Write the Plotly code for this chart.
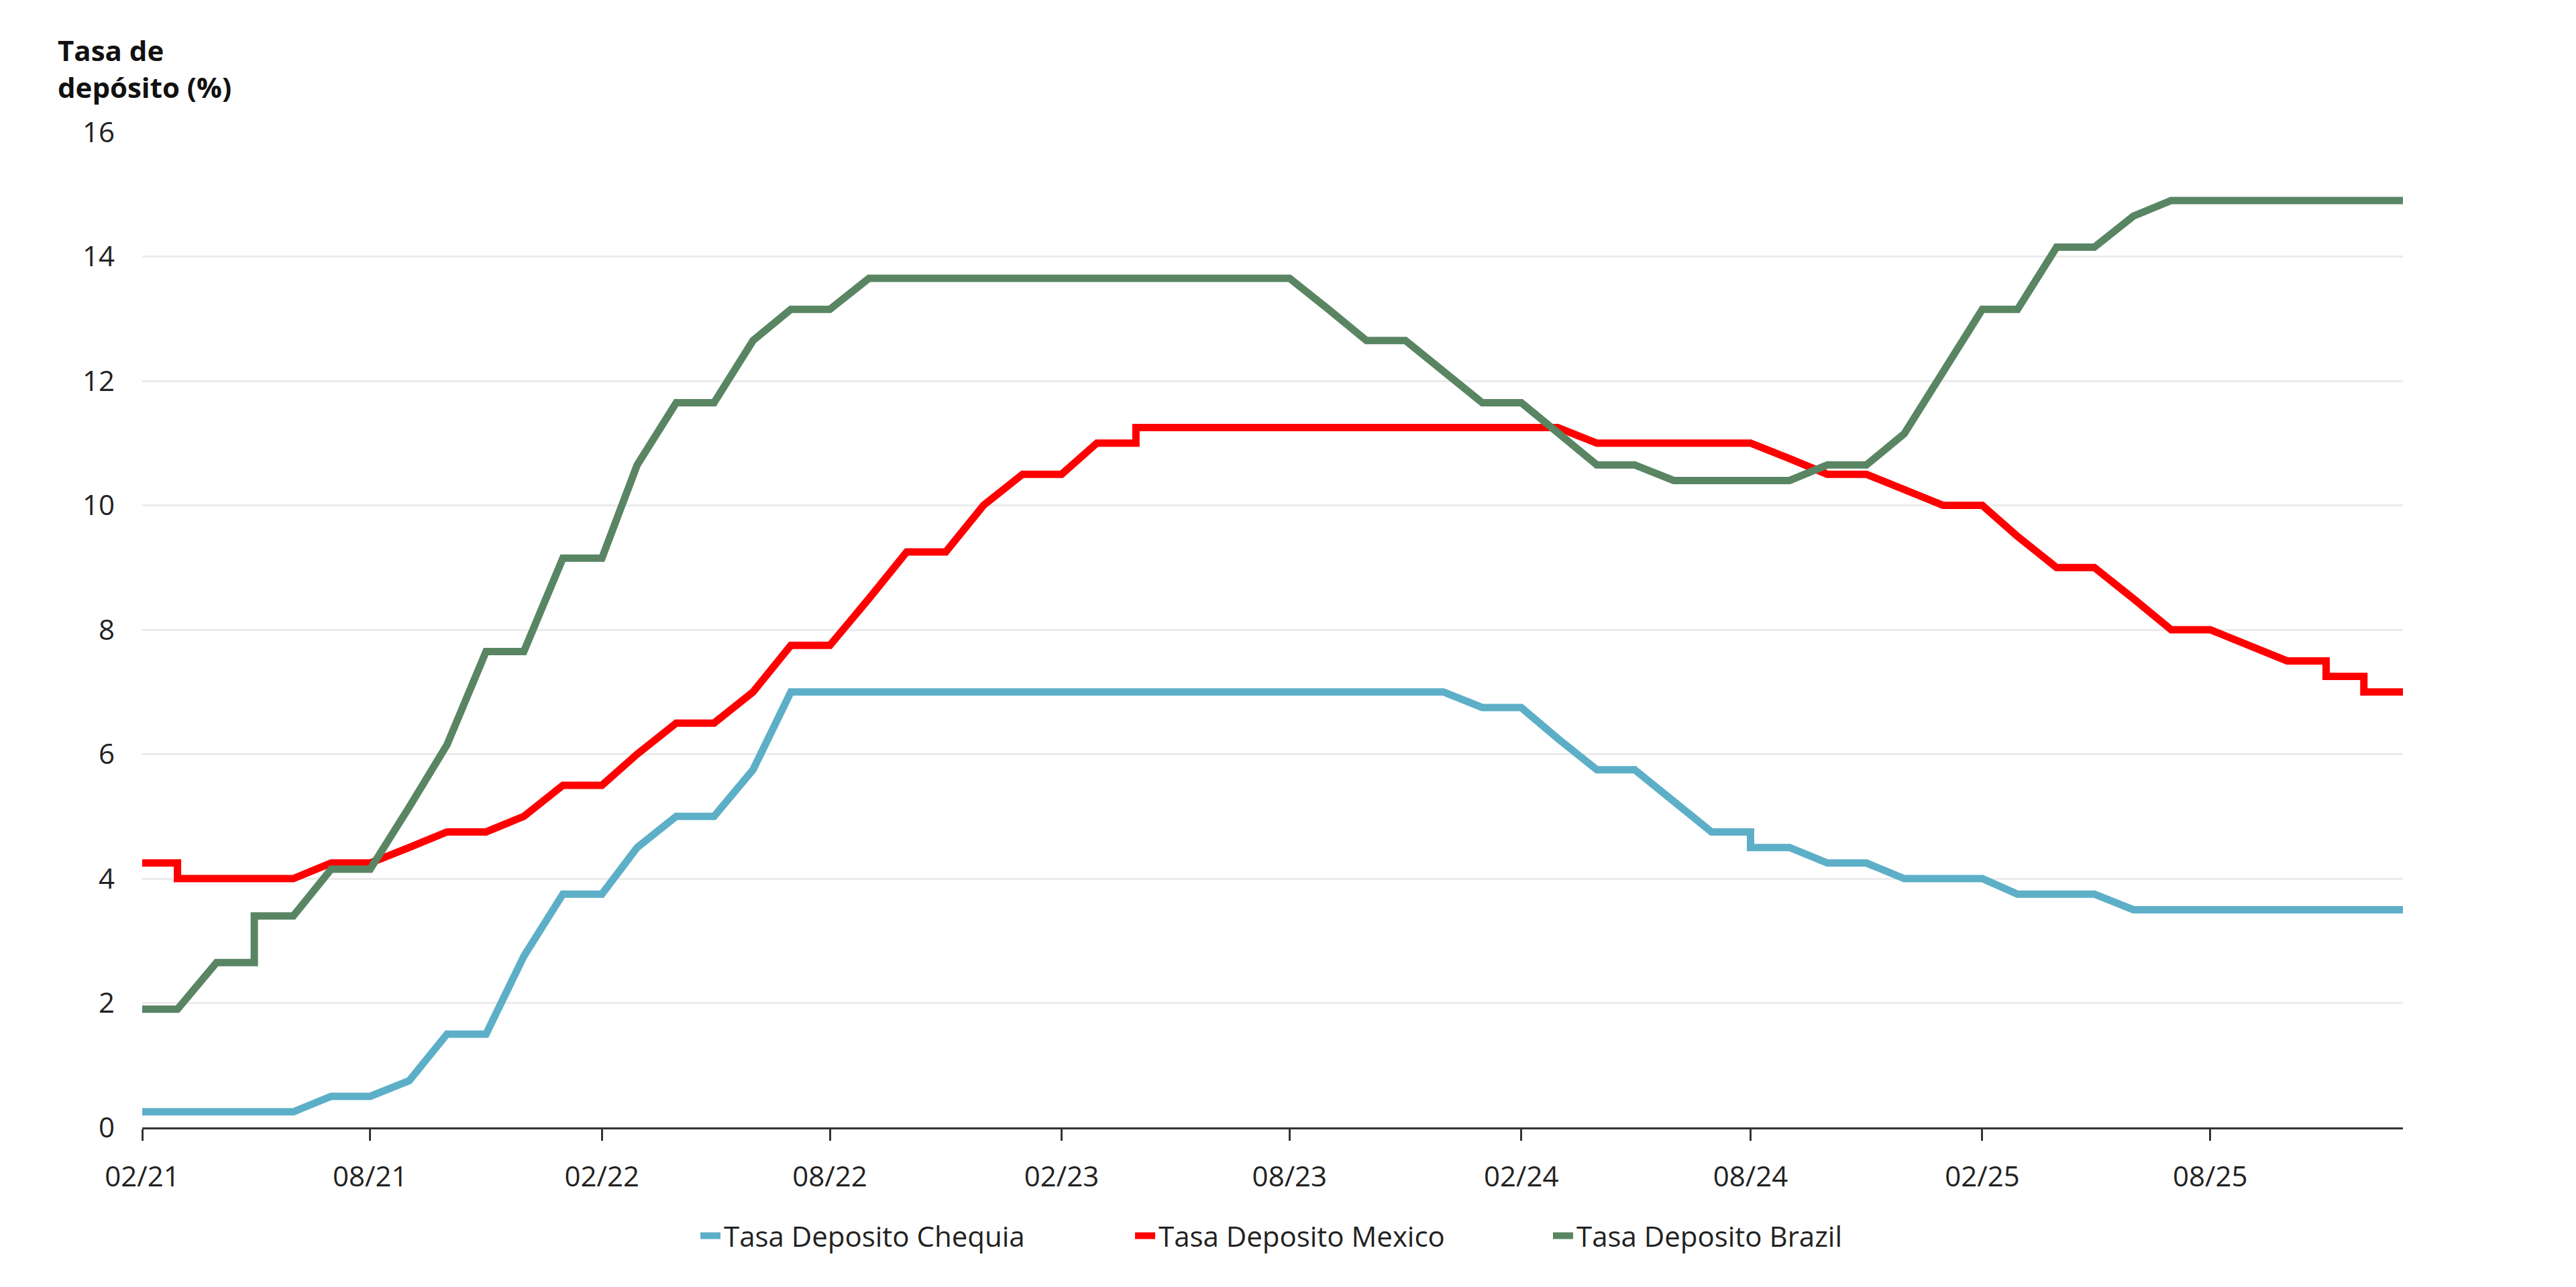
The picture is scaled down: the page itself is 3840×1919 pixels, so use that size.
import plotly.graph_objects as go
import pandas as pd

# Month offsets from 02/2021 (duplicated offsets = same-day rate change)
chequia_months = [0, 4, 5, 6, 7, 8, 9, 10, 11, 12, 13, 14, 15, 16, 17, 34, 35, 36, 37, 38, 39, 40, 41, 42, 42, 43, 44, 45, 46, 48, 49, 51, 52, 59]
chequia_vals = [0.25, 0.25, 0.5, 0.5, 0.75, 1.5, 1.5, 2.75, 3.75, 3.75, 4.5, 5.0, 5.0, 5.75, 7.0, 7.0, 6.75, 6.75, 6.25, 5.75, 5.75, 5.25, 4.75, 4.75, 4.5, 4.5, 4.25, 4.25, 4.0, 4.0, 3.75, 3.75, 3.5, 3.5]

mexico_months = [0, 1, 1, 4, 5, 6, 7, 8, 9, 10, 11, 12, 13, 14, 15, 16, 17, 18, 19, 20, 21, 22, 23, 24, 25, 26, 26, 37, 38, 42, 43, 44, 45, 46, 47, 48, 49, 50, 51, 52, 53, 54, 55, 56, 57, 57, 58, 58, 59]
mexico_vals = [4.25, 4.25, 4.0, 4.0, 4.25, 4.25, 4.5, 4.75, 4.75, 5.0, 5.5, 5.5, 6.0, 6.5, 6.5, 7.0, 7.75, 7.75, 8.5, 9.25, 9.25, 10.0, 10.5, 10.5, 11.0, 11.0, 11.25, 11.25, 11.0, 11.0, 10.75, 10.5, 10.5, 10.25, 10.0, 10.0, 9.5, 9.0, 9.0, 8.5, 8.0, 8.0, 7.75, 7.5, 7.5, 7.25, 7.25, 7.0, 7.0]

brazil_months = [0, 1, 2, 3, 3, 4, 5, 6, 7, 8, 9, 10, 11, 12, 13, 14, 15, 16, 17, 18, 19, 30, 31, 32, 33, 34, 35, 36, 37, 38, 39, 40, 43, 44, 45, 46, 47, 48, 49, 50, 51, 52, 53, 59]
brazil_vals = [1.9, 1.9, 2.65, 2.65, 3.4, 3.4, 4.15, 4.15, 5.15, 6.15, 7.65, 7.65, 9.15, 9.15, 10.65, 11.65, 11.65, 12.65, 13.15, 13.15, 13.65, 13.65, 13.15, 12.65, 12.65, 12.15, 11.65, 11.65, 11.15, 10.65, 10.65, 10.4, 10.4, 10.65, 10.65, 11.15, 12.15, 13.15, 13.15, 14.15, 14.15, 14.65, 14.9, 14.9]

series_names = ["Tasa Deposito Chequia", "Tasa Deposito Mexico", "Tasa Deposito Brazil"]
y_ticks = [0, 2, 4, 6, 8, 10, 12, 14, 16]
y_title = "Tasa de<br>depósito (%)"

start = pd.Timestamp("2021-02-01")


def to_dates(months):
    return [start + pd.DateOffset(months=m) for m in months]


colors = ["#5DAFC7", "#FF0000", "#598563"]
legend_widths = [603, 578, 560]
FONT = "Open Sans"

fig = go.Figure()
for name, months, vals, col, lw in zip(series_names,
                                        [chequia_months, mexico_months, brazil_months],
                                        [chequia_vals, mexico_vals, brazil_vals],
                                        colors, legend_widths):
    fig.add_trace(go.Scatter(x=to_dates(months), y=vals, mode="lines", name=name,
                             line=dict(color=col, width=11), legendwidth=lw))

fig.update_layout(
    width=3840, height=1919,
    paper_bgcolor="white", plot_bgcolor="white",
    margin=dict(l=204, r=266, t=189, b=246),
    font=dict(family=FONT, size=42, color="#222222"),
    showlegend=True,
    legend=dict(orientation="h", x=0.2454, xanchor="left", y=-0.109, yanchor="middle",
                font=dict(size=42, color="#222222"),
                traceorder="normal"),
    annotations=[dict(text="<b>" + y_title + "</b>", xref="paper", yref="paper",
                      x=-0.038, y=1.103, xanchor="left", yanchor="top", align="left",
                      showarrow=False, font=dict(family=FONT, size=42, color="#111111"))],
)
fig.update_xaxes(
    type="date", range=[to_dates([0])[0], to_dates([59])[0]],
    tick0="2021-02-01", dtick="M6", tickformat="%m/%y",
    showgrid=False, showline=True, linecolor="#333333", linewidth=3,
    ticks="outside", ticklen=17, tickwidth=3, tickcolor="#333333",
    ticklabelstandoff=18, zeroline=False,
)
fig.update_yaxes(
    range=[0, 16], tickvals=y_ticks, showgrid=True, gridcolor="#EBEBEB", gridwidth=3,
    zeroline=False, showline=False, ticks="", ticklabelstandoff=40,
)

fig.write_html("out.html")
